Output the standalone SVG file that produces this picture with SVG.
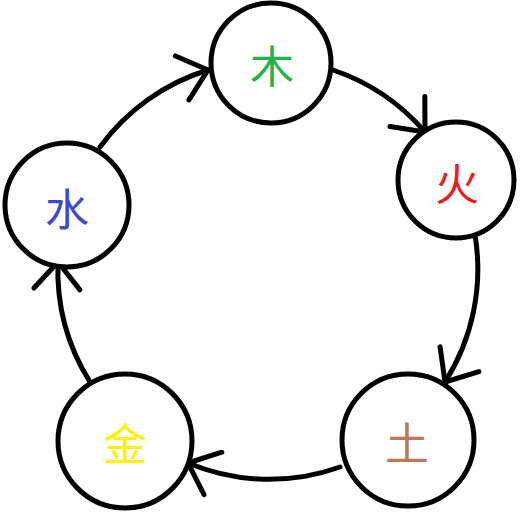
<svg xmlns="http://www.w3.org/2000/svg" width="520" height="513" viewBox="0 0 520 513">
<style>
.node{fill:#fff;stroke:#000;stroke-width:5}
.lbl{font-family:"Noto Sans CJK SC","Noto Sans CJK JP",sans-serif;font-size:44px;text-anchor:middle;dominant-baseline:central}
.edge{fill:none;stroke:#000;stroke-width:5;stroke-linecap:round;marker-end:url(#arr)}
</style>
<defs>
<marker id="arr" markerUnits="userSpaceOnUse" orient="auto" markerWidth="70" markerHeight="70" refX="0" refY="0" viewBox="-35 -35 70 70" overflow="visible">
<path d="M-27,-23 L0,0 L-27,23" fill="none" stroke="#000" stroke-width="5" stroke-linecap="round" stroke-linejoin="round"/>
</marker>
</defs>
<rect width="520" height="513" fill="#fff"/>
<g id="connectors">
<path class="edge" d="M100,147 A210,210 0 0 1 208,70"/>
<path class="edge" d="M333,70 A210,210 0 0 1 425,132"/>
<path class="edge" d="M475,235 A210,210 0 0 1 445,382"/>
<path class="edge" d="M340,467 A210,210 0 0 1 188,463"/>
<path class="edge" d="M90,382 A210,210 0 0 1 58,262"/>
</g>
<g id="wood"><circle class="node" cx="271" cy="63" r="60"/><text class="lbl" x="272" y="64" fill="#22b14c">木</text></g>
<g id="fire"><circle class="node" cx="456" cy="180" r="58"/><text class="lbl" x="457" y="182" fill="#ed1c24">火</text></g>
<g id="earth"><circle class="node" cx="408" cy="440" r="66"/><text class="lbl" x="407" y="441" fill="#b97a57">土</text></g>
<g id="metal"><circle class="node" cx="125" cy="441" r="67"/><text class="lbl" x="125" y="442" fill="#fff200">金</text></g>
<g id="water"><circle class="node" cx="67" cy="205" r="62"/><text class="lbl" x="67" y="207" fill="#3f48cc">水</text></g>
</svg>
